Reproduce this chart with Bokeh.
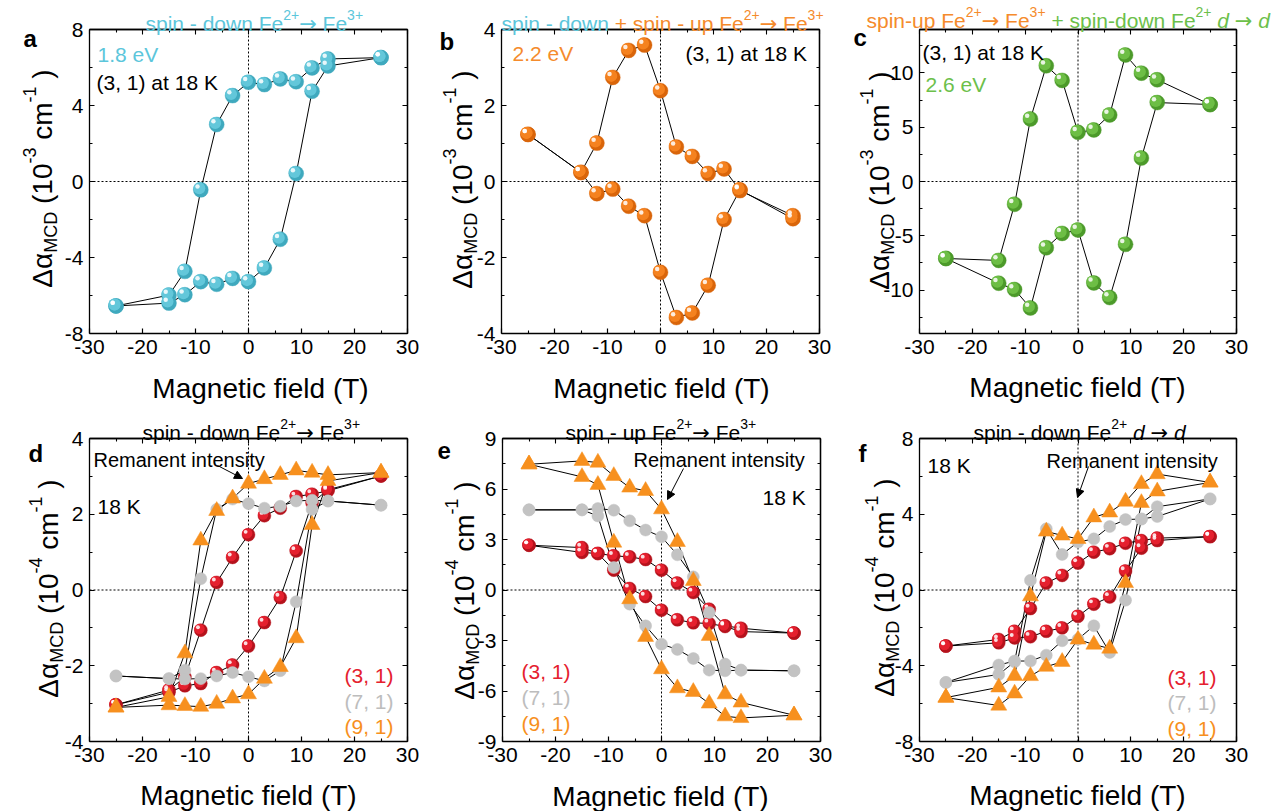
import math
from bokeh.plotting import figure
from bokeh.models import Label, Arrow, NormalHead, LinearAxis, FixedTicker, Range1d
from bokeh.layouts import row, column
from bokeh.embed import file_html
from bokeh.resources import INLINE

# ---------------- data ----------------
FIELD_DOWN = [25, 15, 12, 9, 6, 3, 0, -3, -6, -9, -12, -15, -25]
FIELD_UP = [-25, -15, -12, -9, -6, -3, 0, 3, 6, 9, 12, 15, 25]
X_LIM = (-30, 30)
X_TICKS = [-30, -20, -10, 0, 10, 20, 30]
X_MINOR = [-25, -15, -5, 5, 15, 25]

# panel a: 1.8 eV, (3,1)
a_down = [6.52, 6.45, 5.98, 5.25, 5.40, 5.10, 5.22, 4.52, 3.00, -0.44, -4.73, -5.98, -6.55]
a_up = [-6.55, -6.40, -5.96, -5.27, -5.41, -5.10, -5.27, -4.55, -3.04, 0.42, 4.75, 6.08, 6.52]
# panel b: 2.2 eV
b_down = [-0.90, -0.24, 0.33, 0.21, 0.66, 0.91, 2.39, 3.59, 3.45, 2.74, 1.01, 0.24, 1.24]
b_up = [1.24, 0.24, -0.32, -0.20, -0.65, -0.90, -2.39, -3.58, -3.46, -2.73, -1.00, -0.22, -0.98]
# panel c: 2.6 eV
c_down = [7.09, 9.37, 9.98, 11.65, 6.13, 4.75, 4.53, 9.31, 10.66, 5.76, -2.10, -7.27, -7.09]
c_up = [-7.09, -9.37, -9.95, -11.65, -6.10, -4.78, -4.47, -9.34, -10.69, -5.79, 2.16, 7.27, 7.09]

# panel d: spin-down Fe2+ -> Fe3+  (10^-4 cm^-1)
d31_down = [3.01, 2.62, 2.53, 2.47, 2.16, 1.96, 1.46, 0.86, 0.20, -1.06, -2.30, -2.64, -3.03]
d31_up = [-3.03, -2.70, -2.53, -2.47, -2.18, -1.98, -1.48, -0.86, -0.20, 1.03, 2.30, 2.65, 3.01]
d71_down = [2.24, 2.35, 2.37, 2.35, 2.21, 2.16, 2.28, 2.40, 2.13, 0.30, -2.12, -2.34, -2.27]
d71_up = [-2.27, -2.34, -2.35, -2.34, -2.27, -2.18, -2.29, -2.40, -2.13, -0.31, 2.13, 2.35, 2.24]
d91_down = [3.10, 3.04, 3.10, 3.16, 3.04, 2.93, 2.81, 2.42, 2.09, 1.31, -1.67, -2.82, -3.10]
d91_up = [-3.10, -3.04, -3.06, -3.08, -3.00, -2.86, -2.75, -2.34, -2.03, -1.27, 1.72, 2.88, 3.10]

# panel e: spin-up Fe2+ -> Fe3+
e31_down = [-2.56, -2.47, -2.17, -1.99, -1.95, -1.77, -1.20, -0.39, 0.09, 1.18, 2.17, 2.23, 2.66]
e31_up = [2.66, 2.52, 2.17, 2.03, 1.97, 1.81, 1.18, 0.41, -0.15, -1.14, -2.13, -2.27, -2.56]
e71_down = [-4.80, -4.76, -4.80, -4.76, -4.07, -3.53, -3.22, -2.13, -0.84, 1.34, 4.40, 4.76, 4.76]
e71_up = [4.76, 4.76, 4.84, 4.74, 4.11, 3.56, 3.16, 2.09, 0.78, -1.34, -4.40, -4.76, -4.80]
e91_down = [-7.44, -7.60, -7.50, -6.74, -6.05, -5.83, -4.70, -2.78, -0.54, 2.82, 6.25, 6.72, 7.47]
e91_up = [7.47, 7.67, 7.57, 6.78, 6.09, 5.89, 4.80, 2.86, 0.54, -2.72, -6.19, -6.68, -7.44]

# panel f: spin-down Fe2+ d -> d
f31_down = [2.82, 2.74, 2.61, 2.47, 2.18, 2.00, 1.42, 0.77, 0.37, -0.98, -2.18, -2.61, -2.96]
f31_up = [-2.96, -2.79, -2.53, -2.47, -2.18, -2.00, -1.39, -0.75, -0.37, 1.00, 2.21, 2.61, 2.82]
f71_down = [4.81, 4.40, 3.75, 3.72, 3.35, 2.70, 2.53, 1.88, 3.23, 0.51, -3.79, -4.46, -4.88]
f71_up = [-4.88, -3.96, -3.75, -3.75, -3.44, -2.68, -2.60, -1.89, -3.30, -0.54, 3.75, 3.88, 4.81]
f91_down = [5.68, 6.12, 5.60, 4.67, 4.10, 3.84, 2.70, 2.88, 3.09, -0.33, -4.53, -5.14, -5.68]
f91_up = [-5.68, -6.10, -5.46, -4.54, -4.05, -3.79, -2.61, -2.88, -3.09, 0.37, 4.60, 5.21, 5.68]

SERIES_LABELS = ["(3, 1)", "(7, 1)", "(9, 1)"]

# ---------------- style ----------------
FONT = "Liberation Sans"
ARROW_FONT = "DejaVu Sans"
CYAN, CYAN_D = "#63C7DA", "#3FA9BE"
ORANGE, ORANGE_D = "#F5821F", "#D9650A"
GREEN, GREEN_D = "#6DBE45", "#4C9A2A"
RED, RED_D = "#E5202E", "#B5121C"
GRAY = "#C3C3C3"
TRI = "#F7901E"
T_CYAN, T_ORANGE, T_GREEN = "#5CC6DB", "#F58B2C", "#6CC04A"
TS, SS = 21, 14   # title size, superscript size

CW = {' ': 278, '(': 333, ')': 333, '+': 584, ',': 278, '-': 333, '.': 278,
      'A': 667, 'B': 667, 'C': 722, 'D': 722, 'E': 667, 'F': 611, 'K': 667, 'M': 833, 'R': 722, 'T': 611, 'V': 667,
      'a': 556, 'b': 556, 'c': 500, 'd': 556, 'e': 556, 'f': 278, 'g': 556, 'h': 556, 'i': 222, 'l': 222,
      'm': 833, 'n': 556, 'o': 556, 'p': 556, 'r': 333, 's': 500, 't': 278, 'u': 556, 'w': 722, 'y': 500,
      'Δ': 668, 'α': 580, '→': 838}


def tw(text, size):
    return sum(CW.get(ch, 556) for ch in text) / 1000.0 * size


class Panel:
    """One figure per panel; its frame fills the whole figure and the plot box is
    drawn by fixed-location axes."""

    def __init__(self, fig_w, fig_h, page_x, page_y, fl, ft, fw, fh, yr):
        self.fl = page_x + fl
        self.ft = page_y + ft
        self.fw, self.fh = fw, fh
        self.fb = self.ft + fh
        self.x0, self.x1 = X_LIM
        self.y0, self.y1 = yr
        self.sx = (self.x1 - self.x0) / fw
        self.sy = (self.y1 - self.y0) / fh
        xr = Range1d(self.x0 - fl * self.sx, self.x1 + (fig_w - fl - fw) * self.sx)
        yrr = Range1d(self.y0 - (fig_h - ft - fh) * self.sy, self.y1 + ft * self.sy)
        p = figure(width=fig_w, height=fig_h, output_backend="svg", toolbar_location=None,
                   x_range=xr, y_range=yrr, x_axis_location=None, y_axis_location=None,
                   min_border=0, min_border_left=0, min_border_right=0,
                   min_border_top=0, min_border_bottom=0)
        p.grid.visible = False
        p.outline_line_color = None
        p.background_fill_color = "white"
        p.border_fill_color = "white"
        self.p = p

    def dx(self, px):
        return px * self.sx

    def dy(self, px):
        return px * self.sy

    def to_data(self, X, Y):
        return (self.x0 + (X - self.fl) * self.sx, self.y0 + (self.fb - Y) * self.sy)


def _axis(loc, bounds, ticks, minor, tin, min_in, labels):
    ax = LinearAxis(fixed_location=loc, bounds=bounds,
                    ticker=FixedTicker(ticks=ticks, minor_ticks=minor))
    ax.major_tick_in = tin
    ax.major_tick_out = 0
    ax.minor_tick_in = min_in
    ax.minor_tick_out = 0
    ax.axis_line_width = 1.3
    ax.axis_line_color = "black"
    ax.major_tick_line_width = 1.2
    ax.minor_tick_line_width = 1.1
    if labels:
        ax.major_label_text_font = FONT
        ax.major_label_text_font_size = "21px"
        ax.major_label_text_color = "black"
        ax.major_label_standoff = 6
        ax.major_label_overrides = {t: str(t) for t in ticks}
    return ax


def style_axes(pan, yticks, yminor):
    p = pan.p
    xb = (pan.x0, pan.x1)
    yb = (pan.y0, pan.y1)
    p.add_layout(_axis(pan.y0, xb, X_TICKS, X_MINOR, 5, 3, True), "below")
    p.add_layout(_axis(pan.x0, yb, yticks, yminor, 5, 3, True), "left")
    # mirrored box sides: tick marks only (no major ticks -> no labels)
    p.add_layout(_axis(pan.y1, xb, [], X_TICKS, 5, 5, False), "above")
    p.add_layout(_axis(pan.y1, xb, [], X_MINOR, 3, 3, False), "above")
    p.add_layout(_axis(pan.x1, yb, [], yticks, 5, 5, False), "right")
    p.add_layout(_axis(pan.x1, yb, [], yminor, 3, 3, False), "right")
    # dotted zero lines inside the box
    p.segment(x0=[pan.x0], y0=[0], x1=[pan.x1], y1=[0], line_color="black", line_dash="2 2", line_width=1)
    p.segment(x0=[0], y0=[pan.y0], x1=[0], y1=[pan.y1], line_color="black", line_dash="2 2", line_width=1)


def rich(pan, X, Y, segs, angle=0.0, align="left"):
    """segs: (text, size, color, shift_px, style); X, Y in page pixels."""
    total = sum(tw(s[0], s[1]) for s in segs)
    if align == "right":
        X = X - total
    elif align == "center":
        X = X - total / 2
    cur = 0.0
    for text, size, color, shift, style in segs:
        core = text.strip(" ")
        lead = tw(text[:len(text) - len(text.lstrip(" "))], size)
        font = ARROW_FONT if core == "→" else FONT
        if angle == 0:
            px, py = X + cur + lead, Y - shift
        else:
            px, py = X - shift, Y - cur - lead
        x, y = pan.to_data(px, py)
        if core:
            pan.p.add_layout(Label(x=x, y=y, text=core, text_font=font, text_font_size=f"{size}px",
                                   text_color=color, text_font_style=style, text_align="left",
                                   text_baseline="alphabetic", angle=angle))
        cur += tw(text, size)


def txt(pan, X, Y, text, size=21, color="black", align="left", style="normal"):
    rich(pan, X, Y, [(text, size, color, 0, style)], align=align)


def ylabel(pan, Xb, Yc, exp):
    segs = [("Δα", 28, "black", 0, "normal"), ("MCD", 18, "black", -8, "normal"),
            (" (10", 28, "black", 0, "normal"), (exp, 18, "black", 13, "normal"),
            (" cm", 28, "black", 0, "normal"), ("-1", 18, "black", 13, "normal"),
            (" )", 28, "black", 0, "normal")]
    total = sum(tw(s[0], s[1]) for s in segs)
    rich(pan, Xb, Yc + total / 2, segs, angle=math.pi / 2)


def xlabel(pan, Xc, Yb):
    txt(pan, Xc, Yb, "Magnetic field (T)", size=28, align="center")


def letter(pan, X, Y, ch):
    txt(pan, X, Y, ch, size=24, style="bold")


def loop_line(pan, yd, yu):
    pan.p.line(FIELD_DOWN + FIELD_UP, yd + yu, line_color="black", line_width=1)


def balls(pan, yd, yu, color, dark, size):
    xs = FIELD_DOWN + FIELD_UP
    ys = yd + yu
    p = pan.p
    p.scatter(xs, ys, marker="circle", size=size, fill_color=dark, line_color=dark, line_width=0.4)
    o1x, o1y = pan.dx(-0.1 * size), pan.dy(0.1 * size)
    p.scatter([x + o1x for x in xs], [y + o1y for y in ys], marker="circle", size=size * 0.8,
              fill_color=color, line_color=None)
    o2x, o2y = pan.dx(-0.22 * size), pan.dy(0.22 * size)
    p.scatter([x + o2x for x in xs], [y + o2y for y in ys], marker="circle", size=size * 0.3,
              fill_color="white", fill_alpha=0.85, line_color=None)


def flat(pan, yd, yu, color, size, marker="circle"):
    pan.p.scatter(FIELD_DOWN + FIELD_UP, yd + yu, marker=marker, size=size,
                  fill_color=color, line_color=color, line_width=0.5)


def fe_parts(prefix, color):
    return [(prefix, TS, color, 0, "normal"), ("2+", SS, color, 9, "normal"),
            ("→", TS, color, 0, "normal"), (" Fe", TS, color, 0, "normal"),
            ("3+", SS, color, 9, "normal")]


def dd_parts(prefix, color):
    return [(prefix, TS, color, 0, "normal"), ("2+", SS, color, 9, "normal"),
            (" d", TS, color, 0, "italic"), (" →", TS, color, 0, "normal"),
            (" d", TS, color, 0, "italic")]


# ---------------- panels ----------------
TOP_H, BOT_H = 404, 407
pa = Panel(420, TOP_H, 0, 0, 89, 29, 318, 304, (-8, 8))
pb = Panel(420, TOP_H, 420, 0, 81, 29, 318, 304, (-4, 4))
pc = Panel(431, TOP_H, 840, 0, 79, 29, 317, 304, (-14, 14))
pd = Panel(420, BOT_H, 0, TOP_H, 89, 438 - TOP_H, 318, 303, (-4, 4))
pe = Panel(420, BOT_H, 420, TOP_H, 82, 438 - TOP_H, 318, 303, (-9, 9))
pf = Panel(431, BOT_H, 840, TOP_H, 79, 438 - TOP_H, 317, 303, (-8, 8))

style_axes(pa, [-8, -4, 0, 4, 8], [-6, -2, 2, 6])
style_axes(pb, [-4, -2, 0, 2, 4], [-3, -1, 1, 3])
style_axes(pc, [-10, -5, 0, 5, 10], [-12.5, -7.5, -2.5, 2.5, 7.5, 12.5])
style_axes(pd, [-4, -2, 0, 2, 4], [-3, -1, 1, 3])
style_axes(pe, [-9, -6, -3, 0, 3, 6, 9], [-7.5, -4.5, -1.5, 1.5, 4.5, 7.5])
style_axes(pf, [-8, -4, 0, 4, 8], [-6, -2, 2, 6])

# top row data
loop_line(pa, a_down, a_up)
balls(pa, a_down, a_up, CYAN, CYAN_D, 15)
loop_line(pb, b_down, b_up)
balls(pb, b_down, b_up, ORANGE, ORANGE_D, 15)
loop_line(pc, c_down, c_up)
balls(pc, c_down, c_up, GREEN, GREEN_D, 15)

# bottom row data
for pan, s31, s71, s91 in ((pd, (d31_down, d31_up), (d71_down, d71_up), (d91_down, d91_up)),
                           (pe, (e31_down, e31_up), (e71_down, e71_up), (e91_down, e91_up)),
                           (pf, (f31_down, f31_up), (f71_down, f71_up), (f91_down, f91_up))):
    loop_line(pan, *s31)
    loop_line(pan, *s71)
    loop_line(pan, *s91)
    balls(pan, s31[0], s31[1], RED, RED_D, 13)
    flat(pan, s71[0], s71[1], GRAY, 12)
    flat(pan, s91[0], s91[1], TRI, 16, marker="triangle")

# titles
rich(pa, 145, 23, fe_parts("spin - down Fe", T_CYAN))
rich(pb, 501, 23, [("spin - down", TS, T_CYAN, 0, "normal")] + fe_parts(" + spin - up Fe", T_ORANGE))
rich(pc, 866, 20, fe_parts("spin-up Fe", T_ORANGE) + dd_parts(" + spin-down Fe", T_GREEN))
rich(pd, 142, 432, fe_parts("spin - down Fe", "black"))
rich(pe, 565, 432, fe_parts("spin - up Fe", "black"))
rich(pf, 973, 432, dd_parts("spin - down Fe", "black"))

# letters
letter(pa, 23, 38, "a")
letter(pb, 439, 41, "b")
letter(pc, 853, 37, "c")
letter(pd, 28, 453, "d")
letter(pe, 437, 450, "e")
letter(pf, 858, 453, "f")

# axis titles
ylabel(pa, 42, 178, "-3")
ylabel(pb, 462, 179, "-3")
ylabel(pc, 879, 180, "-3")
ylabel(pd, 48, 588, "-4")
ylabel(pe, 464, 590, "-4")
ylabel(pf, 884, 587, "-4")
xlabel(pa, 260, 388)
xlabel(pb, 661, 388)
xlabel(pc, 1077, 387)
xlabel(pd, 248, 795)
xlabel(pe, 660, 796)
xlabel(pf, 1077, 795)

# inner texts
txt(pa, 97, 54, "1.8 eV", color=T_CYAN)
txt(pa, 96, 82, "(3, 1) at 18 K")
txt(pb, 512, 53, "2.2 eV", color=T_ORANGE)
txt(pb, 685, 53, "(3, 1) at 18 K")
txt(pc, 922, 52, "(3, 1) at 18 K")
txt(pc, 925, 84, "2.6 eV", color=T_GREEN)

txt(pd, 93, 459, "Remanent intensity", size=20)
txt(pd, 97, 506, "18 K")
txt(pe, 633, 459, "Remanent intensity", size=20)
txt(pe, 762, 497, "18 K")
txt(pf, 927, 465, "18 K")
txt(pf, 1046, 460, "Remanent intensity", size=20)

LEG_COLORS = [RED, "#BDBDBD", TRI]
for i, lab in enumerate(SERIES_LABELS):
    txt(pd, 393, [675, 701, 726][i], lab, color=LEG_COLORS[i], align="right")
    txt(pe, 521, [671, 697, 723][i], lab, color=LEG_COLORS[i])
    txt(pf, 1216, [677, 702, 728][i], lab, color=LEG_COLORS[i], align="right")

# arrows to the remanent points
for pan, (sx, sy), (ex, ey) in ((pd, (217, 465), (242, 478)),
                                (pe, (683, 468), (667, 499)),
                                (pf, (1088, 466), (1077, 497))):
    x0, y0 = pan.to_data(sx, sy)
    x1, y1 = pan.to_data(ex, ey)
    pan.p.add_layout(Arrow(end=NormalHead(size=8, fill_color="black", line_color="black", line_width=1),
                           x_start=x0, y_start=y0, x_end=x1, y_end=y1, line_width=1, line_color="black"))

layout = column(row(pa.p, pb.p, pc.p), row(pd.p, pe.p, pf.p))
open("out.html", "w").write(file_html(layout, INLINE))
